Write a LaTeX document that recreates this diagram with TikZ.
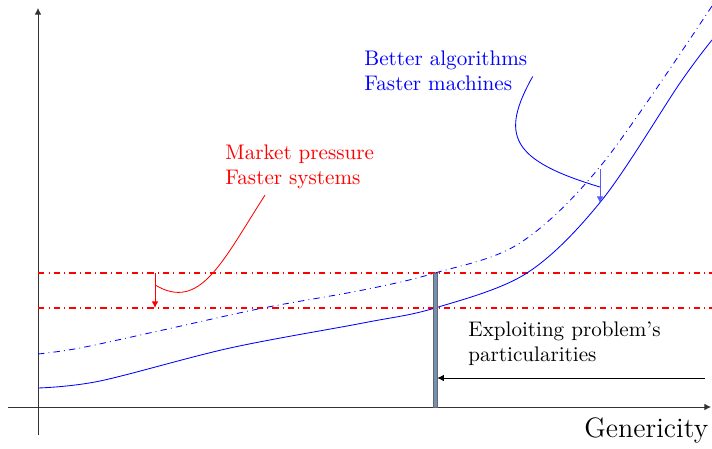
\documentclass[tikz,border=0pt]{standalone}
\usepackage{xcolor}
\usepackage{tikz}
\usetikzlibrary{calc,arrows.meta,fit}
\definecolor{barfill}{HTML}{7391B4}
\definecolor{axisx}{HTML}{333333}
\tikzset{
  ar/.style={-{Latex[length=1.1mm,width=1.1mm]}},
  lvl/.style={draw=red,dash dot,line width=0.5pt},
  bar/.style={draw=gray!80!black,fill=barfill,inner sep=0pt,line width=0.3pt},
  lbl/.style={align=left,anchor=north west,inner sep=0pt}
}

\begin{document}
\begin{tikzpicture}[x=0.474pt,y=-0.474pt]
\useasboundingbox (0,0) rectangle (712,449);
\draw[ar,axisx] (8,407)--(711,407);
\draw[ar,axisx] (38,435)--(38,8);
\draw[lvl] (38,308)--(712,308) (38,273)--(712,273);
\draw[blue] plot[smooth,tension=0.55] coordinates {(38,388) (100,381) (230,348) (363,323) (435,308) (527,273) (602,200) (680,83) (712,40)};
\draw[blue,dash dot] plot[smooth,tension=0.55] coordinates {(38,354) (80,348) (163,330) (263,308) (363,290) (435,273) (520,243) (603,163) (712,6)};
\node[bar,fit={(433,273) (437,407)}] (bar) {};
\node[lbl,blue] (better) at (364,50) {Better algorithms\\Faster machines};
\node[lbl,red] (market) at (225,144) {Market pressure\\Faster systems};
\node[lbl] (exploit) at (468,321) {Exploiting problem's\\particularities};
\node[anchor=base west,inner sep=0pt,font=\fontsize{13.3}{16}\selectfont] (gen) at (584,437) {Genericity};
\coordinate (rt) at (155,273);
\coordinate (rb) at (155,308);
\coordinate (bt) at (600,169);
\coordinate (bb) at (600,203);
\coordinate (ex) at (705,378);
\draw[ar,red] (rt)--(rb);
\draw[red] ($(market.south west)+(40,6)$) .. controls (222,262) and (200,312) .. ($(rt)!0.34!(rb)$);
\draw[ar,blue!65] (bt)--(bb);
\draw[blue] ($(better.east)+(5,6)$) .. controls (500,135) and (510,160) .. ($(bt)!0.53!(bb)$);
\draw[ar] (ex)--(ex-|bar.east);
\end{tikzpicture}
\end{document}
